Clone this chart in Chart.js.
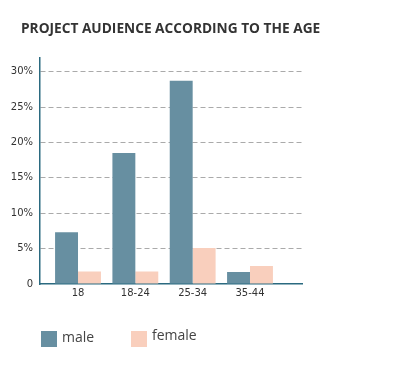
<!DOCTYPE html>
<html>
<head>
<meta charset="utf-8">
<script src="https://cdn.jsdelivr.net/npm/chart.js@4"></script>
<style>
  html, body { margin: 0; padding: 0; background: #fff; }
  #wrap { position: relative; width: 403px; height: 365px; }
  canvas { display: block; }
  .lg { position: absolute; font-family: "Open Sans", sans-serif; font-size: 14px; color: #444; line-height: 16px; }
  .lg span.box { position: absolute; width: 16px; height: 16px; left: 0; top: 0; }
  .lg span.txt { position: absolute; left: 21px; top: -2px; white-space: nowrap; }
</style>
</head>
<body>
<div id="wrap">
  <canvas id="c" width="403" height="365"></canvas>
  <div class="lg" style="left:41px; top:331px;"><span class="box" style="background:#678fa1"></span><span class="txt">male</span></div>
  <div class="lg" style="left:131px; top:331px;"><span class="box" style="background:#f9cfbd"></span><span class="txt" style="top:-4px">female</span></div>
</div>
<script>
const categories = ['18', '18-24', '25-34', '35-44'];
const maleValues = [7.3, 18.5, 28.7, 1.7];
const femaleValues = [1.75, 1.75, 5.1, 2.55];
const yTickValues = [0, 5, 10, 15, 20, 25, 30];
const yTickLabels = ['0', '5%', '10%', '15%', '20%', '25%', '30%'];

const toPoints = arr => arr.map((v, i) => ({ x: i, y: v }));
const tickFont = { family: 'DejaVu Sans', size: 10 };

new Chart(document.getElementById('c'), {
  type: 'bar',
  data: {
    datasets: [
      { label: 'male', data: toPoints(maleValues), backgroundColor: '#678fa1', borderWidth: 0,
        categoryPercentage: 0.8, barPercentage: 1.0 },
      { label: 'female', data: toPoints(femaleValues), backgroundColor: '#f9cfbd', borderWidth: 0,
        categoryPercentage: 0.8, barPercentage: 1.0 }
    ]
  },
  options: {
    responsive: false,
    animation: false,
    layout: { padding: { left: 0, right: 101, top: 0, bottom: 61 } },
    plugins: {
      legend: { display: false },
      tooltip: { enabled: false },
      title: {
        display: true,
        text: 'PROJECT AUDIENCE ACCORDING TO THE AGE',
        align: 'start',
        color: '#333',
        font: { family: 'Open Sans', size: 13.7, weight: 'bold' },
        padding: { top: 21, bottom: 20 },
        fullSize: true
      }
    },
    scales: {
      x: {
        type: 'linear',
        min: -0.663,
        max: 3.907,
        offset: false,
        afterBuildTicks: s => { s.ticks = categories.map((c, i) => ({ value: i })); },
        afterFit: s => { s.height = 20; },
        ticks: {
          autoSkip: false,
          maxRotation: 0,
          padding: 3,
          color: '#333',
          font: tickFont,
          callback: v => categories[v] !== undefined ? categories[v] : ''
        },
        grid: { display: false, drawTicks: false },
        border: { display: true, color: '#2b6a80', width: 1.5 }
      },
      y: {
        min: 0,
        max: 32,
        afterBuildTicks: s => { s.ticks = yTickValues.map(v => ({ value: v })); },
        afterFit: s => { s.width = 40; },
        ticks: {
          padding: 7,
          color: '#333',
          font: tickFont,
          callback: v => yTickLabels[yTickValues.indexOf(v)]
        },
        grid: {
          drawTicks: false,
          color: ctx => ctx.tick && ctx.tick.value === 0 ? 'rgba(0,0,0,0)' : '#aaaaaa',
          lineWidth: 1
        },
        border: { display: true, color: '#2b6a80', width: 1.5, dash: [5, 3] }
      }
    }
  },
  plugins: [{
    id: 'titleIndent',
    afterLayout(chart) {
      if (chart.titleBlock) {
        chart.titleBlock.left = 21;
        chart.titleBlock.right = 403;
        chart.titleBlock.width = 382;
      }
    }
  }]
});
</script>
</body>
</html>
